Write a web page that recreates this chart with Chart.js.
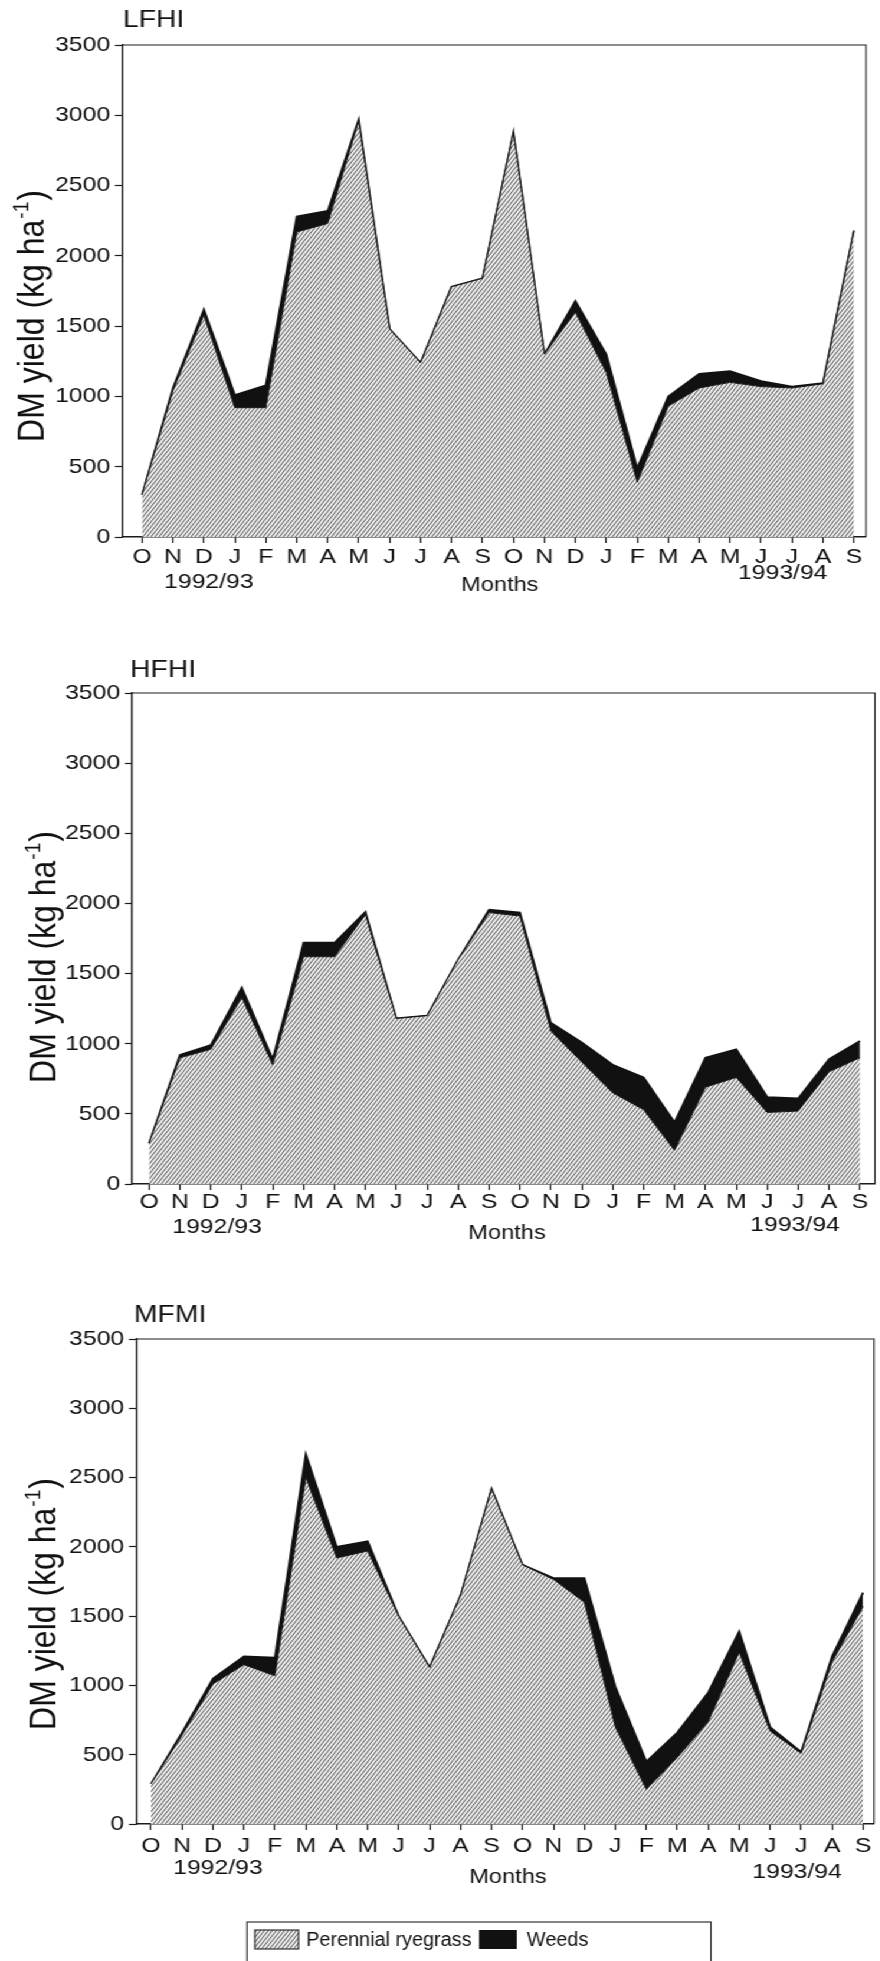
<!DOCTYPE html>
<html>
<head>
<meta charset="utf-8">
<script src="https://cdn.jsdelivr.net/npm/chart.js@4.4.1/dist/chart.umd.min.js"></script>
<style>
  html, body { margin: 0; padding: 0; background: #fff; overflow: hidden; }
  /* the sheet is drawn narrow and widened horizontally, like the printed figure */
  #sheet { position: absolute; left: 0; top: 0; width: 746px; height: 1961px;
           transform: scaleX(1.18); transform-origin: 0 0; }
  #sheet canvas { position: absolute; left: 0; }
</style>
</head>
<body>
<div id="sheet">
  <canvas id="lfhi" width="746" height="620" style="top:0px"></canvas>
  <canvas id="hfhi" width="746" height="620" style="top:640px"></canvas>
  <canvas id="mfmi" width="746" height="681" style="top:1280px"></canvas>
</div>
<script>
const FAMILY = "'Liberation Sans', Arial, Helvetica, sans-serif";

// Months, October 1992 to September 1994
const months = ['O','N','D','J','F','M','A','M','J','J','A','S',
                'O','N','D','J','F','M','A','M','J','J','A','S'];
const yTickValues = [0, 500, 1000, 1500, 2000, 2500, 3000, 3500];
const seasonLabels = ['1992/93', '1993/94'];
const xAxisTitle = 'Months';
const yTitleMain = 'DM yield (kg ha';
const yTitleSup = '-1';
const yTitleEnd = ')';
const legendLabels = ['Perennial ryegrass', 'Weeds'];
const panelNames = ['LFHI', 'HFHI', 'MFMI'];

// DM yield, kg ha-1
const lfhiRyegrass = [300, 1040, 1580, 920, 920, 2170, 2230, 2960, 1480, 1240, 1780, 1840,
                      2880, 1300, 1600, 1170, 390, 930, 1060, 1100, 1070, 1060, 1090, 2180];
const lfhiWeeds    = [0, 20, 40, 90, 160, 110, 90, 10, 0, 0, 0, 0,
                      0, 0, 80, 130, 100, 70, 100, 80, 40, 10, 5, 0];

const hfhiRyegrass = [290, 900, 960, 1330, 850, 1620, 1620, 1920, 1180, 1200, 1600, 1935,
                      1910, 1090, 870, 650, 530, 240, 690, 760, 510, 520, 800, 900];
const hfhiWeeds    = [0, 20, 30, 70, 40, 100, 100, 20, 0, 0, 0, 20,
                      25, 60, 140, 200, 230, 200, 210, 200, 110, 90, 90, 120];

const mfmiRyegrass = [290, 640, 1010, 1150, 1070, 2500, 1920, 1970, 1500, 1130, 1650, 2420,
                      1870, 1765, 1600, 700, 250, 480, 740, 1240, 670, 510, 1170, 1570];
const mfmiWeeds    = [0, 20, 40, 60, 130, 170, 80, 70, 0, 0, 0, 0,
                      0, 10, 175, 290, 200, 180, 210, 150, 30, 10, 40, 100];

// diagonal hatching used for the ryegrass area
function makeHatch() {
  const W = 17, H = 5, p = 3.4, k = p / H;
  const c = document.createElement('canvas');
  c.width = W; c.height = H;
  const g = c.getContext('2d');
  g.fillStyle = '#ececec';
  g.fillRect(0, 0, W, H);
  g.strokeStyle = '#2a2a2a';
  g.lineWidth = 0.78;
  for (let x0 = -3 * p; x0 < W + 3 * p; x0 += p) {
    g.beginPath();
    g.moveTo(x0 - k * 2, H + 2);
    g.lineTo(x0 + p + k * 2, -2);
    g.stroke();
  }
  return g.createPattern(c, 'repeat');
}
const hatch = makeHatch();

function drawYTitle(ctx, cx, cy) {
  const big = '32px ' + FAMILY, small = '19px ' + FAMILY;
  ctx.save();
  ctx.translate(cx, cy);
  ctx.rotate(-Math.PI / 2);
  ctx.textAlign = 'left';
  ctx.textBaseline = 'alphabetic';
  ctx.font = big;
  const w1 = ctx.measureText(yTitleMain).width;
  const w3 = ctx.measureText(yTitleEnd).width;
  ctx.font = small;
  const w2 = ctx.measureText(yTitleSup).width;
  const x0 = -(w1 + w2 + w3) / 2;
  const base = 0.358 * 32;
  ctx.font = big;
  ctx.fillText(yTitleMain, x0, base);
  ctx.font = small;
  ctx.fillText(yTitleSup, x0 + w1 + 1, base - 13);
  ctx.font = big;
  ctx.fillText(yTitleEnd, x0 + w1 + w2 + 2, base);
  ctx.restore();
}

// narrow legend lettering
function condensedText(ctx, text, x, y, squeeze) {
  ctx.save();
  ctx.translate(x, y);
  ctx.scale(squeeze, 1);
  ctx.fillText(text, 0, 0);
  ctx.restore();
}

// frame, panel name, axis titles, season labels and legend
const decor = {
  id: 'decor',
  afterDraw(chart, args, o) {
    const { ctx, chartArea: a } = chart;
    const x = chart.scales.x;
    ctx.save();
    ctx.strokeStyle = '#1d1d1d';
    ctx.lineWidth = 1.1;
    ctx.beginPath();
    ctx.moveTo(a.left, a.top);
    ctx.lineTo(a.right, a.top);
    ctx.lineTo(a.right, a.bottom);
    ctx.stroke();

    ctx.fillStyle = '#111';
    ctx.textBaseline = 'middle';
    ctx.textAlign = 'left';
    ctx.font = '24px ' + FAMILY;
    ctx.fillText(o.name, o.nameX, o.nameY);

    ctx.textAlign = 'center';
    ctx.font = '21px ' + FAMILY;
    o.seasons.forEach((s, i) => ctx.fillText(seasonLabels[i], x.getPixelForValue(s.at), s.y));
    ctx.font = '20px ' + FAMILY;
    ctx.fillText(xAxisTitle, x.getPixelForValue(o.monthsAt), o.monthsY);

    drawYTitle(ctx, o.yTitleX, o.yTitleY);

    if (o.legend) {
      const L = o.legend;
      ctx.lineWidth = 1.1;
      ctx.strokeStyle = '#222';
      ctx.strokeRect(L.x, L.y, L.w, L.h);
      ctx.fillStyle = hatch;
      ctx.fillRect(L.sw1, L.y + 8, 37, 19);
      ctx.strokeRect(L.sw1, L.y + 8, 37, 19);
      ctx.fillStyle = '#111';
      ctx.fillRect(L.sw2, L.y + 8, 32, 19);
      ctx.textAlign = 'left';
      ctx.font = '20px ' + FAMILY;
      condensedText(ctx, legendLabels[0], L.t1, L.y + 18, 0.84);
      condensedText(ctx, legendLabels[1], L.t2, L.y + 18, 0.84);
    }
    ctx.restore();
  }
};

const axisLine = { display: true, color: '#1a1a1a', width: 1.4 };
const tickMarks = { display: true, drawOnChartArea: false, drawTicks: true,
                    tickLength: 6, tickWidth: 1.2, tickColor: '#1a1a1a' };

function makeChart(id, name, rye, weeds, L, extra) {
  return new Chart(document.getElementById(id), {
    type: 'line',
    data: {
      datasets: [
        { label: legendLabels[0], data: rye.map((v, i) => ({ x: i, y: v })),
          fill: 'origin', backgroundColor: hatch, borderColor: '#151515',
          borderWidth: 1.0, pointRadius: 0, tension: 0 },
        { label: legendLabels[1], data: weeds.map((v, i) => ({ x: i, y: v })),
          fill: '-1', backgroundColor: '#111', borderColor: '#111',
          borderWidth: 1.7, pointRadius: 0, tension: 0 }
      ]
    },
    options: {
      responsive: false,
      animation: false,
      devicePixelRatio: 1,
      layout: { padding: { left: 0, right: L.padRight, top: L.padTop, bottom: 0 } },
      plugins: {
        legend: { display: false },
        tooltip: { enabled: false },
        decor: Object.assign({ name }, extra)
      },
      scales: {
        x: {
          type: 'linear', min: L.xMin, max: L.xMax,
          afterBuildTicks: s => { s.ticks = months.map((m, i) => ({ value: i })); },
          afterFit: s => { s.height = L.xAxisH; },
          ticks: { callback: v => months[v], autoSkip: false, maxRotation: 0, minRotation: 0,
                   padding: L.xLabelPad, color: '#111', font: { family: FAMILY, size: 21, lineHeight: 1 } },
          grid: tickMarks, border: axisLine
        },
        y: {
          min: 0, max: 3500, stacked: true,
          afterBuildTicks: s => { s.ticks = yTickValues.map(v => ({ value: v })); },
          afterFit: s => { s.width = L.yAxisW; },
          ticks: { callback: v => String(v), padding: 4, color: '#111',
                   font: { family: FAMILY, size: 21, lineHeight: 1 } },
          grid: tickMarks, border: axisLine
        }
      }
    },
    plugins: [decor]
  });
}

makeChart('lfhi', panelNames[0], lfhiRyegrass, lfhiWeeds,
  { xMin: -0.646, xMax: 23.39, padRight: 12.1, padTop: 45, yAxisW: 103.4, xAxisH: 83, xLabelPad: 3.5 },
  { nameX: 104.2, nameY: 20, yTitleX: 25.4, yTitleY: 317,
    seasons: [{ at: 2.16, y: 582 }, { at: 20.7, y: 573 }], monthsAt: 11.56, monthsY: 585 });

makeChart('hfhi', panelNames[1], hfhiRyegrass, hfhiWeeds,
  { xMin: -0.55, xMax: 23.485, padRight: 4.5, padTop: 53, yAxisW: 111.9, xAxisH: 76, xLabelPad: 1.5 },
  { nameX: 110.2, nameY: 30, yTitleX: 35.6, yTitleY: 318,
    seasons: [{ at: 2.2, y: 587 }, { at: 20.9, y: 585 }], monthsAt: 11.58, monthsY: 593 });

makeChart('mfmi', panelNames[2], mfmiRyegrass, mfmiWeeds,
  { xMin: -0.484, xMax: 23.355, padRight: 5.3, padTop: 59, yAxisW: 115.3, xAxisH: 137, xLabelPad: 5.5 },
  { nameX: 113.6, nameY: 35, yTitleX: 35.6, yTitleY: 325,
    seasons: [{ at: 2.16, y: 588 }, { at: 20.87, y: 592 }], monthsAt: 11.53, monthsY: 597,
    legend: { x: 209.3, y: 642, w: 393.2, h: 60, sw1: 216, sw2: 406, t1: 259.5, t2: 446.6 } });
</script>
</body>
</html>
